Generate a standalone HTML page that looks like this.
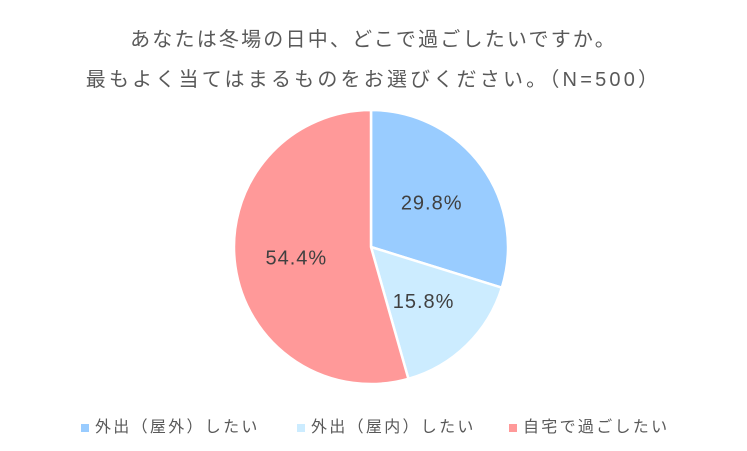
<!DOCTYPE html>
<html><head><meta charset="utf-8"><style>
html,body{margin:0;padding:0;background:#fff;}
body{width:747px;height:451px;overflow:hidden;position:relative;font-family:"Liberation Sans","Noto Sans CJK JP",sans-serif;color:#595959;}
.t{position:absolute;left:0;width:747px;text-align:center;font-size:20px;letter-spacing:2.2px;}
.lg{position:absolute;top:413px;font-size:16px;white-space:nowrap;letter-spacing:2.3px;}
.sw{display:inline-block;width:8px;height:8px;margin-right:6px;vertical-align:middle;}
</style></head><body>
<div class="t" style="top:23px">あなたは冬場の日中、どこで過ごしたいですか。</div>
<div class="t" style="top:63px;letter-spacing:3.2px">最もよく当てはまるものをお選びください。（N=500）</div>
<svg id="pie" width="747" height="451" style="position:absolute;left:0;top:0"></svg>
<div class="lg" style="left:81px"><span class="sw" style="background:#99CCFF"></span>外出（屋外）したい</div>
<div class="lg" style="left:297px"><span class="sw" style="background:#CCECFF"></span>外出（屋内）したい</div>
<div class="lg" style="left:509px"><span class="sw" style="background:#FF9999"></span>自宅で過ごしたい</div>
<script>
const categories=["外出（屋外）したい","外出（屋内）したい","自宅で過ごしたい"];
const values=[29.8,15.8,54.4];
const labels=["29.8%","15.8%","54.4%"];
const colors=["#99CCFF","#CCECFF","#FF9999"];
const svg=document.getElementById('pie');
const NS="http://www.w3.org/2000/svg";
const cx=371,cy=247,r=137;
const total=values.reduce((a,b)=>a+b,0);
let a0=0;
values.forEach((v,i)=>{
  const a1=a0+v/total*2*Math.PI;
  const p=a=>[cx+r*Math.sin(a),cy-r*Math.cos(a)];
  const [x0,y0]=p(a0),[x1,y1]=p(a1);
  const path=document.createElementNS(NS,'path');
  path.setAttribute('d',`M${cx},${cy}L${x0},${y0}A${r},${r} 0 ${a1-a0>Math.PI?1:0} 1 ${x1},${y1}Z`);
  path.setAttribute('fill',colors[i]);
  path.setAttribute('stroke','#fff');
  path.setAttribute('stroke-width','2.5');
  
  
  svg.appendChild(path);
  const am=(a0+a1)/2,lr=r*0.55;
  const t=document.createElementNS(NS,'text');
  t.setAttribute('x',cx+lr*Math.sin(am));
  t.setAttribute('y',cy-lr*Math.cos(am)+7);
  t.setAttribute('text-anchor','middle');
  t.setAttribute('font-size','20');
  t.setAttribute('letter-spacing','1');
  t.setAttribute('fill','#404040');
  t.setAttribute('font-family','"Liberation Sans",sans-serif');
  t.textContent=labels[i];
  
  
  svg.appendChild(t);
  a0=a1;
});
</script>
</body></html>
